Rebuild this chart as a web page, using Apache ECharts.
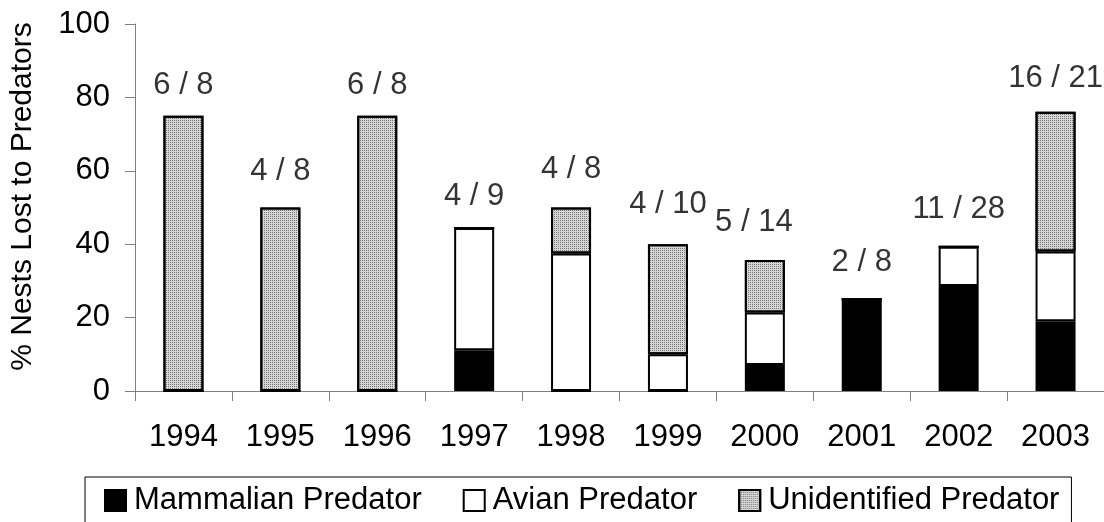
<!DOCTYPE html>
<html>
<head>
<meta charset="utf-8">
<script src="https://cdn.jsdelivr.net/npm/echarts@6/dist/echarts.min.js"></script>
<style>
  html, body { margin: 0; padding: 0; background: #fff; }
  #chart { width: 1104px; height: 522px; }
</style>
</head>
<body>
<div id="chart"></div>
<script>
// years on the x axis
const years = ['1994', '1995', '1996', '1997', '1998', '1999', '2000', '2001', '2002', '2003'];
// % of nests lost, split by predator type (stacked)
const mammalian = [0, 0, 0, 11.1, 0, 0, 7.1, 25, 28.6, 19.0];
const avian = [0, 0, 0, 33.3, 37.5, 10, 14.3, 0, 10.7, 19.0];
const unidentified = [75, 50, 75, 0, 12.5, 30, 14.3, 0, 0, 38.1];
// "lost / total" annotations and the height (in %) where each one sits
const counts = ['6 / 8', '4 / 8', '6 / 8', '4 / 9', '4 / 8', '4 / 10', '5 / 14', '2 / 8', '11 / 28', '16 / 21'];
const countLevel = [83.2, 59.7, 83.2, 52.9, 60.3, 50.7, 45.8, 34.9, 49.6, 85.1];

const FONT = 'Liberation Sans, Arial, sans-serif';
const chart = echarts.init(document.getElementById('chart'));

const barBase = {
  type: 'bar',
  stack: 'nests',
  barWidth: 40,
};

chart.setOption({
  animation: false,
  textStyle: { fontFamily: FONT },
  grid: { left: 135, right: 0, top: 24, bottom: 131 },
  legend: {
    data: ['Mammalian Predator', 'Avian Predator', 'Unidentified Predator'],
    left: 85,
    top: 477,
    padding: [8, 12, 30, 19],
    borderColor: '#000',
    borderWidth: 1,
    itemWidth: 21,
    itemHeight: 21,
    itemGap: 41,
    icon: 'rect',
    textStyle: { fontSize: 31, color: '#000', fontFamily: FONT, padding: [0, 0, 0, 3] },
  },
  xAxis: {
    type: 'category',
    data: years,
    axisLine: { lineStyle: { color: '#808080', width: 1 } },
    axisTick: { show: true, length: 10, lineStyle: { color: '#808080' } },
    axisLabel: { fontSize: 31, color: '#000', margin: 31, fontFamily: FONT },
  },
  yAxis: {
    type: 'value',
    min: 0,
    max: 100,
    interval: 20,
    name: '% Nests Lost to Predators',
    nameLocation: 'middle',
    nameRotate: 90,
    nameGap: 97,
    nameTextStyle: { fontSize: 30, color: '#000', fontFamily: FONT, padding: [0, 0, 0, 22] },
    axisLine: { show: true, lineStyle: { color: '#808080', width: 1 } },
    axisTick: { show: true, length: 10, lineStyle: { color: '#808080' } },
    axisLabel: { fontSize: 31, color: '#000', margin: 25, fontFamily: FONT },
    splitLine: { show: false },
  },
  series: [
    Object.assign({}, barBase, {
      name: 'Mammalian Predator',
      data: mammalian,
      itemStyle: { color: '#000', borderColor: '#000', borderWidth: 2 },
    }),
    Object.assign({}, barBase, {
      name: 'Avian Predator',
      data: avian,
      itemStyle: { color: '#fff', borderColor: '#000', borderWidth: 2 },
    }),
    Object.assign({}, barBase, {
      name: 'Unidentified Predator',
      data: unidentified,
      itemStyle: {
        color: '#d6d6d6',
        borderColor: '#000',
        borderWidth: 2,
        decal: {
          symbol: 'rect',
          symbolSize: 1,
          dashArrayX: [1, 1],
          dashArrayY: [1, 1],
          color: '#777',
        },
      },
    }),
    {
      name: 'counts',
      type: 'scatter',
      symbolSize: 0,
      silent: true,
      data: counts.map((c, i) => ({
        value: [i, countLevel[i]],
        label: i === 6 ? { offset: [-11, 0] } : undefined,
      })),
      label: {
        show: true,
        position: 'inside',
        fontSize: 31,
        color: '#000',
        fontFamily: FONT,
        formatter: p => counts[p.dataIndex],
      },
    },
  ],
});
</script>
</body>
</html>
